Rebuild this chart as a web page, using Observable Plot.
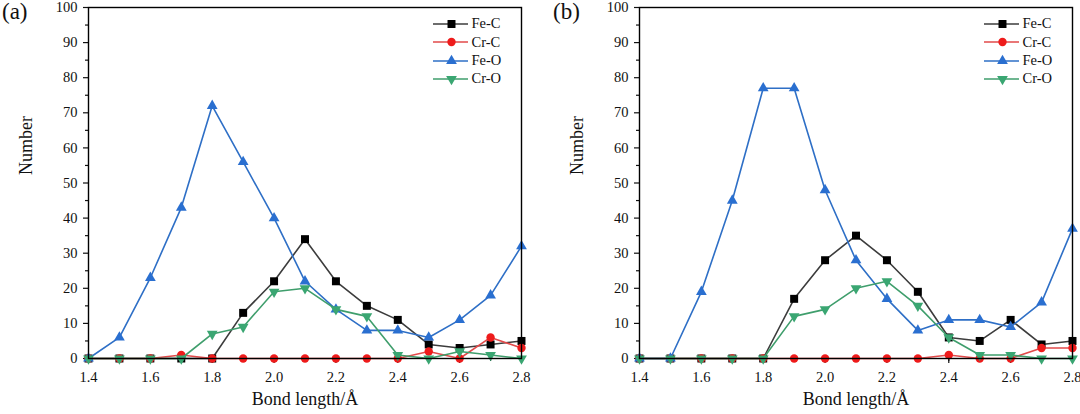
<!DOCTYPE html>
<html><head><meta charset="utf-8">
<script src="https://cdn.jsdelivr.net/npm/d3@7"></script>
<script src="https://cdn.jsdelivr.net/npm/@observablehq/plot@0.6"></script>
<style>
html,body{margin:0;padding:0;background:#fff}
body{width:1080px;height:414px;overflow:hidden;font-family:"Liberation Serif","Times New Roman",serif}
#wrap{position:relative;width:1080px;height:414px}
.panel{position:absolute;top:0;width:540px;height:414px}
.tag{position:absolute;top:-1px;font-size:23px;color:#111}
.legend{position:absolute;top:14.8px;font-size:14.5px;color:#111}
.legend .row{display:flex;align-items:center;height:18.33px}
.legend svg{display:block}
.legend span{margin-left:3.5px}
</style></head><body><div id="wrap"></div>
<script>
// ---- data ----
const bondLength = [1.4,1.5,1.6,1.7,1.8,1.9,2.0,2.1,2.2,2.3,2.4,2.5,2.6,2.7,2.8];
const seriesNames = ["Fe-C","Cr-C","Fe-O","Cr-O"];
const xTickLabels = [1.4,1.6,1.8,2.0,2.2,2.4,2.6,2.8];
const yTickLabels = [0,10,20,30,40,50,60,70,80,90,100];

const aFeC = [0,0,0,0,0,13,22,34,22,15,11,4,3,4,5];
const aCrC = [0,0,0,1,0,0,0,0,0,0,0,2,0,6,3];
const aFeO = [0,6,23,43,72,56,40,22,14,8,8,6,11,18,32];
const aCrO = [0,0,0,0,7,9,19,20,14,12,1,0,2,1,0];

const bFeC = [0,0,0,0,0,17,28,35,28,19,6,5,11,4,5];
const bCrC = [0,0,0,0,0,0,0,0,0,0,1,0,0,3,3];
const bFeO = [0,0,19,45,77,77,48,28,17,8,11,11,9,16,37];
const bCrO = [0,0,0,0,0,12,14,20,22,15,6,1,1,0,0];

// ---- styles ----
const styles = {
  "Fe-C": {line:"#3c3c3c", fill:"#000000", symbol:"square", r:4.5, rotate:0},
  "Cr-C": {line:"#e24a4a", fill:"#ee1b1b", symbol:"circle", r:4.2, rotate:0},
  "Fe-O": {line:"#2e6fc6", fill:"#2a6fd0", symbol:"triangle", r:4.0, rotate:0},
  "Cr-O": {line:"#3f9e6c", fill:"#3aa672", symbol:"triangle", r:4.0, rotate:180}
};

const xMinor = d3.range(14, 29).map(d => d / 10);
const yMinor = d3.range(5, 100, 10);

function rows(values, name) {
  return bondLength.map((x, i) => ({x, y: values[i], name}));
}

function panel(seriesValues, opts) {
  const marks = [
    Plot.axisY({ticks: yMinor, tickSize: 3, text: null, label: null, strokeWidth: 1.2}),
    Plot.axisY({ticks: yTickLabels, tickSize: 5, tickPadding: 6, label: null, fontSize: 14.5, strokeWidth: 1.2}),
    Plot.axisX({ticks: xMinor, tickSize: 3, text: null, label: null, strokeWidth: 1.2}),
    Plot.axisX({ticks: xTickLabels, tickSize: 5, tickPadding: 8, label: null, fontSize: 14.5,
      tickFormat: d => d.toFixed(1), strokeWidth: 1.2}),
    Plot.text(["Bond length/Å"], {frameAnchor: "bottom", dy: 46, fontSize: 18, fill: "#111"}),
    Plot.text(["Number"], {frameAnchor: "left", dx: -62, dy: -8, rotate: -90, fontSize: 18, fill: "#111"})
  ];
  seriesNames.forEach((name, i) => {
    const s = styles[name];
    const data = rows(seriesValues[i], name);
    marks.push(Plot.line(data, {x: "x", y: "y", stroke: s.line, strokeWidth: 1.6}));
    marks.push(Plot.dot(data, {x: "x", y: "y", symbol: () => s.symbol, fill: s.fill, stroke: "none", r: s.r, rotate: s.rotate}));
  });
  marks.push(Plot.frame({stroke: "#000", strokeWidth: 1.4}));
  return Plot.plot({
    width: 540, height: 414,
    marginLeft: opts.marginLeft, marginRight: opts.marginRight, marginTop: 7, marginBottom: 56,
    style: {fontFamily: '"Liberation Serif","Times New Roman",serif', fontSize: "14.5px", background: "transparent", color: "#111", overflow: "visible"},
    x: {domain: [1.4, 2.8]},
    y: {domain: [0, 100]},
    symbol: {type: "identity"},
    marks
  });
}

function legend(left) {
  const div = document.createElement("div");
  div.className = "legend";
  div.style.left = left + "px";
  seriesNames.forEach(name => {
    const s = styles[name];
    const row = document.createElement("div");
    row.className = "row";
    const sym = d3.symbol(s.symbol === "square" ? d3.symbolSquare : s.symbol === "circle" ? d3.symbolCircle : d3.symbolTriangle, Math.PI * s.r * s.r)();
    row.innerHTML = `<svg width="35" height="14"><line x1="0" x2="35" y1="7" y2="7" stroke="${s.line}" stroke-width="1.6"/><path d="${sym}" fill="${s.fill}" transform="translate(18.5,7) rotate(${s.rotate})"/></svg><span>${name}</span>`;
    div.appendChild(row);
  });
  return div;
}

const wrap = document.getElementById("wrap");
const configs = [
  {left: 0, marginLeft: 88, marginRight: 19, values: [aFeC, aCrC, aFeO, aCrO], tag: "(a)", tagLeft: 2, legendLeft: 433},
  {left: 540, marginLeft: 99, marginRight: 8, values: [bFeC, bCrC, bFeO, bCrO], tag: "(b)", tagLeft: 553, legendLeft: 984}
];
configs.forEach(c => {
  const p = document.createElement("div");
  p.className = "panel";
  p.style.left = c.left + "px";
  p.appendChild(panel(c.values, c));
  wrap.appendChild(p);
  const t = document.createElement("div");
  t.className = "tag";
  t.style.left = c.tagLeft + "px";
  t.textContent = c.tag;
  wrap.appendChild(t);
  wrap.appendChild(legend(c.legendLeft));
});
</script>
</body></html>
